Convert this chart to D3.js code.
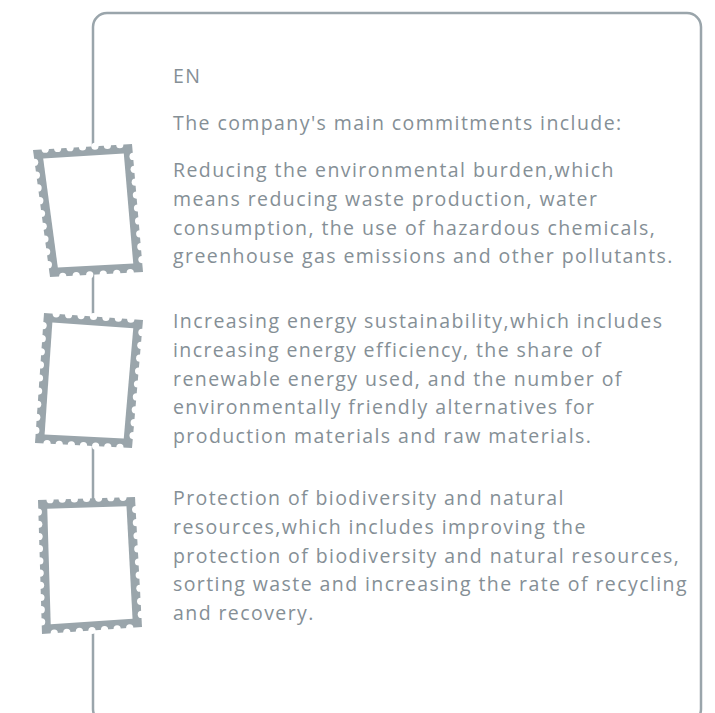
<!DOCTYPE html>
<html>
<head>
<meta charset="utf-8">
<script src="https://cdn.jsdelivr.net/npm/d3@7"></script>
<style>
  body { margin: 0; background: #fff; }
  svg { display: block; }
</style>
</head>
<body>
<svg></svg>
<script>
// text content
var heading = "EN";
var intro = "The company's main commitments include:";
var commitment1 = [
  "Reducing the environmental burden,which",
  "means reducing waste production, water",
  "consumption, the use of hazardous chemicals,",
  "greenhouse gas emissions and other pollutants."
];
var commitment2 = [
  "Increasing energy sustainability,which includes",
  "increasing energy efficiency, the share of",
  "renewable energy used, and the number of",
  "environmentally friendly alternatives for",
  "production materials and raw materials."
];
var commitment3 = [
  "Protection of biodiversity and natural",
  "resources,which includes improving the",
  "protection of biodiversity and natural resources,",
  "sorting waste and increasing the rate of recycling",
  "and recovery."
];
var commitments = [commitment1, commitment2, commitment3];

var width = 715, height = 713;
var lineColor = "#9aa5ab";
var textColor = "#858f96";
var textX = 173;
var lineStep = 28.8;
var fontSize = 19.5;
var maxLineWidth = 515;

var svg = d3.select("svg").attr("width", width).attr("height", height);

// frame (left side doubles as the timeline)
svg.append("rect")
  .attr("x", 93).attr("y", 13)
  .attr("width", 608).attr("height", 710)
  .attr("rx", 14).attr("ry", 14)
  .attr("fill", "none")
  .attr("stroke", lineColor)
  .attr("stroke-width", 2.5);

// stamps: corners tl, tr, br, bl
var stampCorners = [
  [[33, 150], [132, 144], [143, 272], [50, 277]],
  [[44, 313], [143, 320], [132, 448], [35, 443]],
  [[38, 500], [135, 497], [142, 627], [42, 634]]
];

function intersect(p1, d1, p2, d2) {
  var den = d1[0] * d2[1] - d1[1] * d2[0];
  var t = ((p2[0] - p1[0]) * d2[1] - (p2[1] - p1[1]) * d2[0]) / den;
  return [p1[0] + d1[0] * t, p1[1] + d1[1] * t];
}

// shrink a convex quad by moving each edge inwards
function inset(q, k) {
  var lines = q.map(function (p, i) {
    var n = q[(i + 1) % 4];
    var dx = n[0] - p[0], dy = n[1] - p[1];
    var len = Math.hypot(dx, dy);
    var nx = -dy / len, ny = dx / len;
    return { p: [p[0] + nx * k, p[1] + ny * k], d: [dx, dy] };
  });
  return lines.map(function (l, i) {
    var prev = lines[(i + 3) % 4];
    return intersect(prev.p, prev.d, l.p, l.d);
  });
}

var stampG = svg.append("g").attr("class", "stamps");

stampCorners.forEach(function (q) {
  var g = stampG.append("g");
  g.append("path")
    .attr("d", d3.line()(q) + "Z")
    .attr("fill", lineColor);

  // perforation notches along every outer edge
  var holes = [];
  q.forEach(function (p, i) {
    var n = q[(i + 1) % 4];
    var len = Math.hypot(n[0] - p[0], n[1] - p[1]);
    var count = Math.round((len - 12) / 12.5);
    for (var j = 0; j < count; j++) {
      var t = (6 + (len - 12) * (j + 0.5) / count) / len;
      holes.push([p[0] + (n[0] - p[0]) * t, p[1] + (n[1] - p[1]) * t]);
    }
  });
  g.selectAll("circle")
    .data(holes)
    .enter().append("circle")
    .attr("cx", function (d) { return d[0]; })
    .attr("cy", function (d) { return d[1]; })
    .attr("r", 3.6)
    .attr("fill", "#fff");

  g.append("path")
    .attr("d", d3.line()(inset(q, 9)) + "Z")
    .attr("fill", "#fff");
});

// text
var textG = svg.append("g")
  .attr("font-family", "'Open Sans', 'Noto Sans', sans-serif")
  .attr("font-size", fontSize)
  .attr("fill", textColor);

textG.append("text")
  .attr("x", textX).attr("y", 83)
  .text(heading);

textG.append("text")
  .attr("x", textX).attr("y", 130)
  .text(intro);

var paraStarts = [177, 328, 505];

commitments.forEach(function (lines, k) {
  var y = d3.scaleLinear()
    .domain([0, 1])
    .range([paraStarts[k], paraStarts[k] + lineStep]);
  textG.selectAll(null)
    .data(lines)
    .enter().append("text")
    .attr("x", textX)
    .attr("y", function (d, i) { return y(i); })
    .text(function (d) { return d; });
});

// the source face is wider than Open Sans; add a little tracking so the
// longest line reaches the same right edge
var widest = null, widestW = 0;
textG.selectAll("text").each(function () {
  var w = this.getComputedTextLength();
  if (w > widestW) { widestW = w; widest = this; }
});
textG.attr("letter-spacing", Math.max(0, (maxLineWidth - widestW) / widest.textContent.length));
</script>
</body>
</html>
